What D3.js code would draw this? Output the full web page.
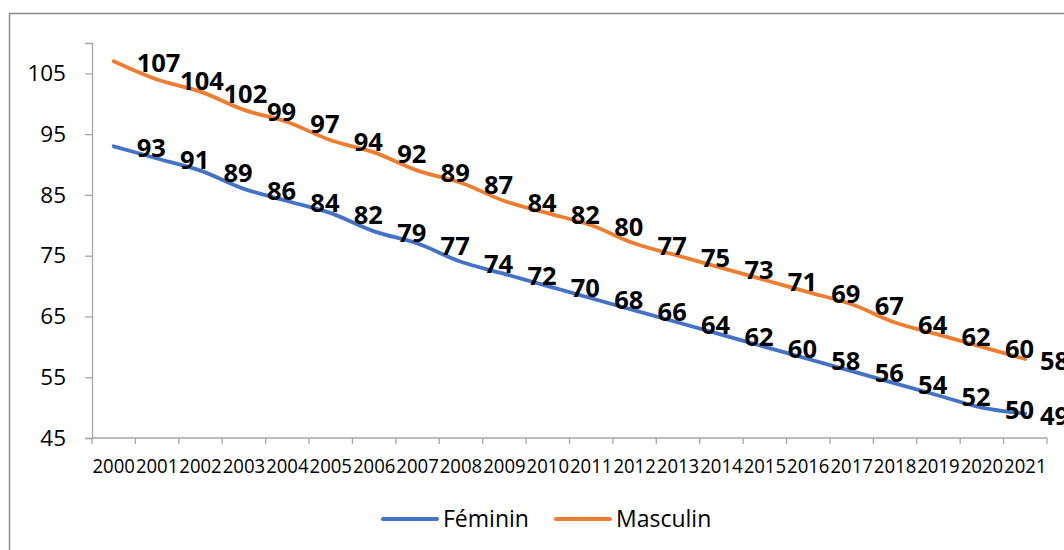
<!DOCTYPE html>
<html>
<head>
<meta charset="utf-8">
<script src="https://cdn.jsdelivr.net/npm/d3@7"></script>
<style>
  html, body { margin: 0; padding: 0; background: #fff; overflow: hidden; }
  svg text { font-family: "Open Sans", "Liberation Sans", sans-serif; }
</style>
</head>
<body>
<svg id="chart" width="1064" height="550"></svg>
<script>
var years = ["2000","2001","2002","2003","2004","2005","2006","2007","2008","2009","2010",
             "2011","2012","2013","2014","2015","2016","2017","2018","2019","2020","2021"];
var feminin = [93,91,89,86,84,82,79,77,74,72,70,68,66,64,62,60,58,56,54,52,50,49];
var masculin = [107,104,102,99,97,94,92,89,87,84,82,80,77,75,73,71,69,67,64,62,60,58];
var yTicks = [45,55,65,75,85,95,105];

var series = [
  {name: "Féminin", values: feminin, color: "#4472C4"},
  {name: "Masculin", values: masculin, color: "#ED7D31"}
];

var svg = d3.select("#chart");
var width = +svg.attr("width"), height = +svg.attr("height");

// chart area frame (runs past the right and bottom edges)
svg.append("rect")
   .attr("x", 9.5).attr("y", 13.5)
   .attr("width", 1100).attr("height", 600)
   .attr("fill", "none")
   .attr("stroke", "#8a8a8a")
   .attr("stroke-width", 1.5);

var x0 = 92, x1 = 1047, yTop = 43, yBot = 438;

var x = d3.scaleBand().domain(years).range([x0, x1]);
var y = d3.scaleLinear().domain([45, 110]).range([yBot, yTop]);

// y axis
var yAxis = svg.append("g")
   .attr("transform", "translate(" + x0 + ",0)")
   .call(d3.axisLeft(y).tickValues(yTicks).tickSize(7).tickPadding(19));
yAxis.select(".domain").attr("stroke", "#a6a6a6").attr("stroke-width", 1.3);
yAxis.selectAll(".tick line").attr("stroke", "#a6a6a6").attr("stroke-width", 1.3);
yAxis.selectAll(".tick text")
     .attr("fill", "#000")
     .style("font-size", "22.5px")
     .attr("font-family", null);

// x axis: ticks on the band edges, labels on the band centres
var xAxisG = svg.append("g").attr("transform", "translate(0," + yBot + ")");
xAxisG.append("line")
      .attr("x1", x0).attr("x2", x1)
      .attr("stroke", "#a6a6a6").attr("stroke-width", 1.3);
var edges = years.map(function(d) { return x(d); }).concat([x1]);
xAxisG.selectAll("line.tk").data(edges).enter().append("line")
      .attr("class", "tk")
      .attr("x1", function(d) { return d; }).attr("x2", function(d) { return d; })
      .attr("y1", 0).attr("y2", 6)
      .attr("stroke", "#a6a6a6").attr("stroke-width", 1.3);
xAxisG.selectAll("text").data(years).enter().append("text")
      .attr("x", function(d) { return x(d) + x.bandwidth() / 2; })
      .attr("y", 35)
      .attr("text-anchor", "middle")
      .attr("textLength", x.bandwidth() - 1)
      .attr("lengthAdjust", "spacingAndGlyphs")
      .style("font-size", "20.5px")
      .text(function(d) { return d; });

// lines
var line = d3.line()
   .x(function(d, i) { return x(years[i]) + x.bandwidth() / 2; })
   .y(function(d) { return y(d); })
   .curve(d3.curveCatmullRom.alpha(0.5));

series.forEach(function(s) {
  svg.append("path")
     .datum(s.values)
     .attr("d", line)
     .attr("fill", "none")
     .attr("stroke", s.color)
     .attr("stroke-width", 3.8)
     .attr("stroke-linecap", "round");
});

// data labels, to the right of each point
series.forEach(function(s) {
  svg.append("g").selectAll("text")
     .data(s.values).enter().append("text")
     .attr("x", function(d, i) { return Math.min(x(years[i]) + x.bandwidth() / 2 + 23, width - 24); })
     .attr("y", function(d) { return y(d) + 1; })
     .attr("dominant-baseline", "central")
     .style("font-size", "25.5px")
     .style("font-weight", "bold")
     .attr("fill", "#000")
     .text(function(d) { return d; });
});

// legend
var legend = svg.append("g");
var legendX = [383, 556];
series.forEach(function(s, i) {
  legend.append("line")
        .attr("x1", legendX[i]).attr("x2", legendX[i] + 54)
        .attr("y1", 519).attr("y2", 519)
        .attr("stroke", s.color).attr("stroke-width", 4)
        .attr("stroke-linecap", "round");
  legend.append("text")
        .attr("x", legendX[i] + 60)
        .attr("y", 527)
        .style("font-size", "23px")
        .attr("fill", "#000")
        .text(s.name);
});
</script>
</body>
</html>
